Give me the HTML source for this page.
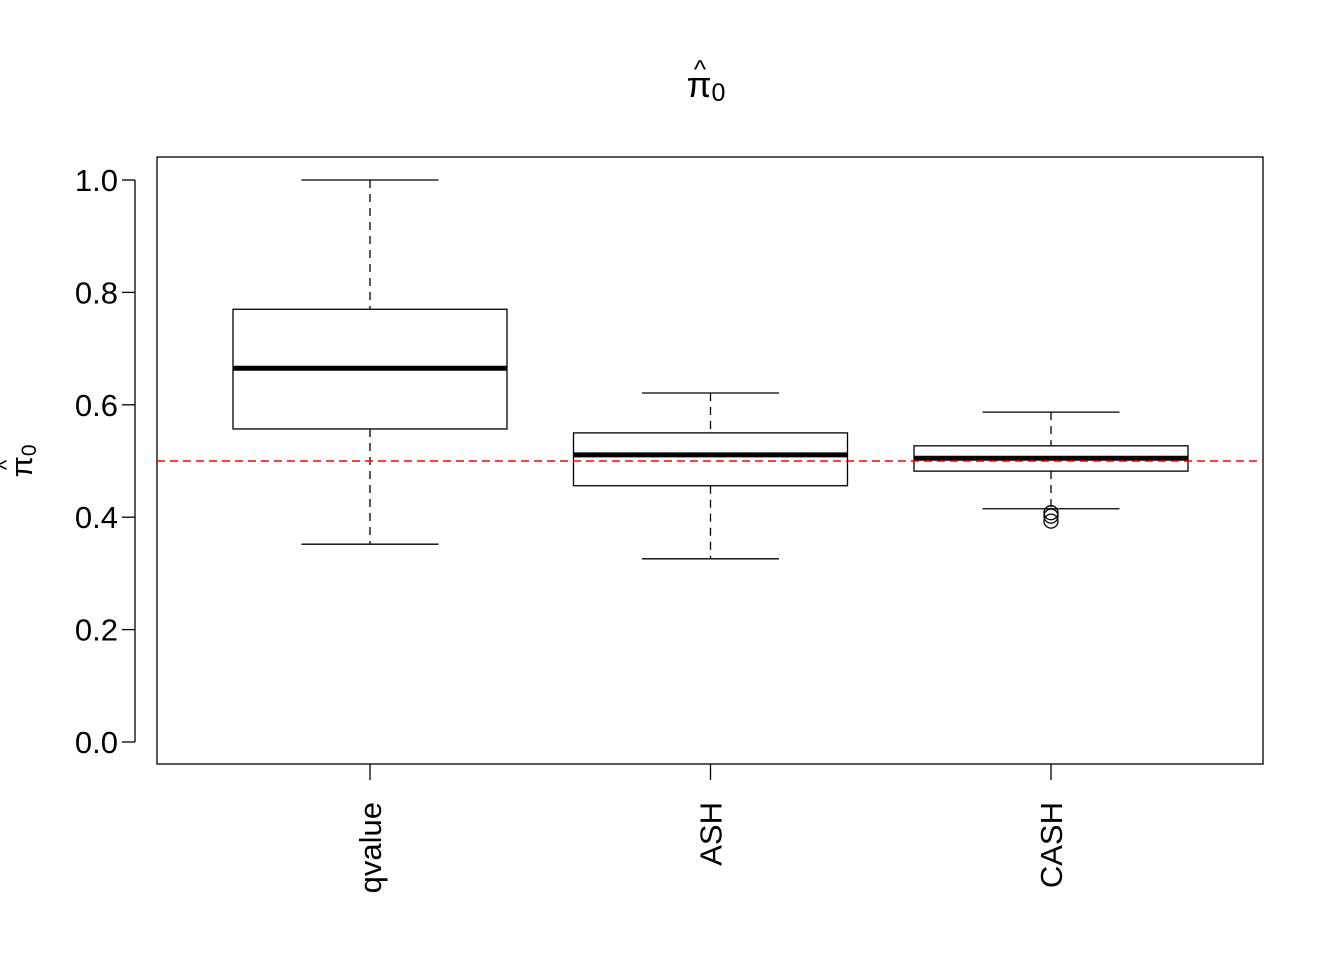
<!DOCTYPE html>
<html><head><meta charset="utf-8"><style>
body{margin:0;background:#fff;}
svg text{font-family:"Liberation Sans",Arial,sans-serif;fill:#000;}
</style></head><body>
<svg id="chart" width="1344" height="960" xmlns="http://www.w3.org/2000/svg">
<rect width="1344" height="960" fill="#fff"/>
<text x="706" y="97" font-size="36" text-anchor="middle">π<tspan font-size="25" dy="4">0</tspan></text>
<text x="700" y="78" font-size="26" text-anchor="middle">^</text>
<g transform="translate(32,461) rotate(-90)">
<text x="0" y="0" font-size="31" text-anchor="middle">π<tspan font-size="21" dy="4">0</tspan></text>
<text x="-4" y="-18" font-size="22" text-anchor="middle">^</text>
</g>
<rect x="157" y="157" width="1106" height="607" fill="none" stroke="#000" stroke-width="1.3"/>
<g id="yaxis"></g>
<g id="xaxis"></g>
<g id="boxes"></g>
</svg>
<script>
const categories = ["qvalue","ASH","CASH"];
const whiskerLow = [0.352,0.326,0.415];
const q1 = [0.557,0.456,0.482];
const medians = [0.665,0.511,0.505];
const q3 = [0.770,0.550,0.527];
const whiskerHigh = [1.0,0.621,0.587];
const outliers = [[],[],[0.408,0.402,0.393]];
const yTicks = [0,0.2,0.4,0.6,0.8,1.0];
const yTickLabels = ["0.0","0.2","0.4","0.6","0.8","1.0"];
const refLine = 0.5;

const NS="http://www.w3.org/2000/svg";
const y = v => 742 - 562*v;
const x = i => 370 + i*340.5;
function mk(tag, attrs, parent){const e=document.createElementNS(NS,tag);for(const k in attrs)e.setAttribute(k,attrs[k]);parent.appendChild(e);return e;}
const ya=document.getElementById('yaxis'), xa=document.getElementById('xaxis'), bx=document.getElementById('boxes');
mk('line',{x1:135,x2:135,y1:y(0),y2:y(1),stroke:'#000','stroke-width':1.3},ya);
yTicks.forEach((t,i)=>{
  const l=mk('line',{x1:122,x2:135,y1:y(t),y2:y(t),stroke:'#000','stroke-width':1.3},ya);
  
  
  const tx=mk('text',{x:118,y:y(t)+11,'font-size':31,'text-anchor':'end'},ya);
  tx.textContent=yTickLabels[i];
  
  
});
categories.forEach((c,i)=>{
  const cx=x(i);
  mk('line',{x1:cx,x2:cx,y1:764,y2:780,stroke:'#000','stroke-width':1.3},xa);
  const tx=mk('text',{x:0,y:0,'font-size':31,'text-anchor':'end',transform:`translate(${cx+11},802) rotate(-90)`},xa);
  tx.textContent=c;
  
  
  const g=mk('g',{},bx);
  
  
  const hw=137, cw=68.5;
  mk('line',{x1:cx,x2:cx,y1:y(whiskerHigh[i]),y2:y(q3[i]),stroke:'#000','stroke-width':1.3,'stroke-dasharray':'8,6'},g);
  mk('line',{x1:cx,x2:cx,y1:y(q1[i]),y2:y(whiskerLow[i]),stroke:'#000','stroke-width':1.3,'stroke-dasharray':'8,6'},g);
  mk('line',{x1:cx-cw,x2:cx+cw,y1:y(whiskerHigh[i]),y2:y(whiskerHigh[i]),stroke:'#000','stroke-width':1.3},g);
  mk('line',{x1:cx-cw,x2:cx+cw,y1:y(whiskerLow[i]),y2:y(whiskerLow[i]),stroke:'#000','stroke-width':1.3},g);
  mk('rect',{x:cx-hw,y:y(q3[i]),width:2*hw,height:y(q1[i])-y(q3[i]),fill:'#fff',stroke:'#000','stroke-width':1.3},g);
  mk('line',{x1:cx-hw,x2:cx+hw,y1:y(medians[i]),y2:y(medians[i]),stroke:'#000','stroke-width':5},g);
  outliers[i].forEach(o=>{
    const p=mk('circle',{cx:cx,cy:y(o),r:7,fill:'none',stroke:'#000','stroke-width':1.3},g);
    
    
  });
});
const rl=mk('line',{x1:157,x2:1263,y1:y(refLine),y2:y(refLine),stroke:'#ff0000','stroke-width':1.5,'stroke-dasharray':'8,5'},bx);


</script>
</body></html>
